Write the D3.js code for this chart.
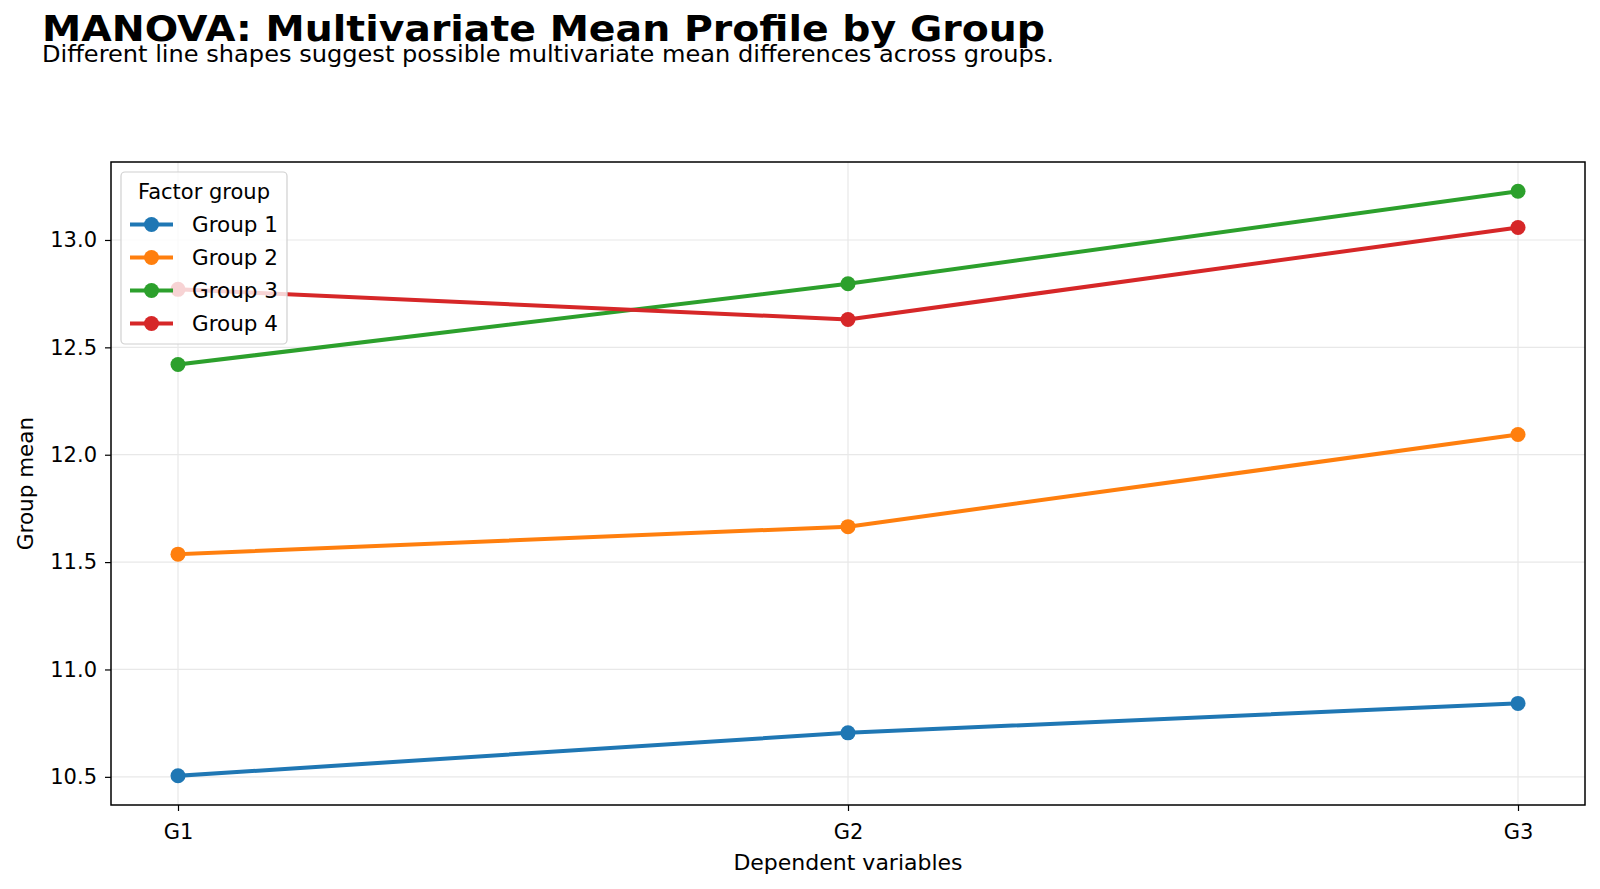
<!DOCTYPE html>
<html>
<head>
<meta charset="utf-8">
<script src="https://cdn.jsdelivr.net/npm/d3@7"></script>
<style>
  body { margin: 0; background: #fff; }
  svg { display: block; font-family: "DejaVu Sans", sans-serif; }
</style>
</head>
<body>
<svg id="chart" width="1600" height="889"></svg>
<script>
// dependent variables along the x axis
var variables = ["G1", "G2", "G3"];
var groups = ["Group 1", "Group 2", "Group 3", "Group 4"];
var colors = ["#1f77b4", "#ff7f0e", "#2ca02c", "#d62728"];

// group means
var group1 = [10.505, 10.705, 10.842];
var group2 = [11.537, 11.665, 12.094];
var group3 = [12.420, 12.796, 13.227];
var group4 = [12.770, 12.630, 13.058];
var yTicks = [10.5, 11.0, 11.5, 12.0, 12.5, 13.0];

var series = [group1, group2, group3, group4];

var svg = d3.select("#chart");
var box = {left: 111, right: 1585, top: 162, bottom: 805};

// matplotlib style 5% margins
var x = d3.scaleLinear()
  .domain([-0.1, variables.length - 1 + 0.1])
  .range([box.left, box.right]);
var allVals = [].concat.apply([], series);
var lo = d3.min(allVals), hi = d3.max(allVals), pad = (hi - lo) * 0.05;
var y = d3.scaleLinear()
  .domain([lo - pad, hi + pad])
  .range([box.bottom, box.top]);

// title + subtitle (the reference text runs wider than plain DejaVu)
svg.append("text").attr("x", 42).attr("y", 41)
  .attr("font-size", 36).attr("font-weight", "bold")
  .attr("textLength", 1003).attr("lengthAdjust", "spacingAndGlyphs")
  .text("MANOVA: Multivariate Mean Profile by Group");
svg.append("text").attr("x", 42).attr("y", 62)
  .attr("font-size", 22.5)
  .attr("textLength", 1012).attr("lengthAdjust", "spacingAndGlyphs")
  .text("Different line shapes suggest possible multivariate mean differences across groups.");

// grid
var grid = svg.append("g").attr("stroke", "#e8e8e8").attr("stroke-width", 1.2);
yTicks.forEach(function(t) {
  grid.append("line").attr("x1", box.left).attr("x2", box.right)
    .attr("y1", y(t)).attr("y2", y(t));
});
variables.forEach(function(v, i) {
  grid.append("line").attr("y1", box.top).attr("y2", box.bottom)
    .attr("x1", x(i)).attr("x2", x(i));
});

// axes
var xAxis = svg.append("g")
  .attr("transform", "translate(0," + box.bottom + ")")
  .call(d3.axisBottom(x).tickValues(d3.range(variables.length))
    .tickFormat(function(d) { return variables[d]; })
    .tickSizeInner(6).tickSizeOuter(0).tickPadding(13));
var yAxis = svg.append("g")
  .attr("transform", "translate(" + box.left + ",0)")
  .call(d3.axisLeft(y).tickValues(yTicks).tickFormat(d3.format(".1f"))
    .tickSizeInner(6).tickSizeOuter(0).tickPadding(8));
[xAxis, yAxis].forEach(function(a) {
  a.select(".domain").remove();
  a.selectAll("text").attr("font-size", 21).attr("fill", "#000")
    .attr("font-family", "DejaVu Sans");
  a.selectAll("line").attr("stroke", "#000").attr("stroke-width", 1.2);
});

svg.append("text").attr("x", (box.left + box.right) / 2).attr("y", 870)
  .attr("text-anchor", "middle").attr("font-size", 22)
  .text("Dependent variables");
svg.append("text")
  .attr("transform", "translate(33," + (box.top + box.bottom) / 2 + ") rotate(-90)")
  .attr("text-anchor", "middle").attr("font-size", 21.5)
  .text("Group mean");

// lines
var line = d3.line()
  .x(function(d, i) { return x(i); })
  .y(function(d) { return y(d); });

series.forEach(function(vals, k) {
  svg.append("path").datum(vals)
    .attr("d", line).attr("fill", "none")
    .attr("stroke", colors[k]).attr("stroke-width", 4)
    .attr("stroke-linejoin", "round").attr("stroke-linecap", "square");
  svg.selectAll(".pt" + k).data(vals).enter().append("circle")
    .attr("cx", function(d, i) { return x(i); })
    .attr("cy", function(d) { return y(d); })
    .attr("r", 7.5).attr("fill", colors[k]);
});

// frame
svg.append("rect").attr("x", box.left).attr("y", box.top)
  .attr("width", box.right - box.left).attr("height", box.bottom - box.top)
  .attr("fill", "none").attr("stroke", "#000").attr("stroke-width", 1.5);

// legend
var leg = svg.append("g");
leg.append("rect").attr("x", 121).attr("y", 172).attr("width", 166).attr("height", 172)
  .attr("rx", 4).attr("fill", "#fff").attr("fill-opacity", 0.8)
  .attr("stroke", "#d0d0d0").attr("stroke-width", 1.2);
leg.append("text").attr("x", 204).attr("y", 199).attr("text-anchor", "middle")
  .attr("font-size", 21).text("Factor group");
groups.forEach(function(g, k) {
  var cy = 224.5 + k * 33;
  leg.append("line").attr("x1", 130).attr("x2", 173).attr("y1", cy).attr("y2", cy)
    .attr("stroke", colors[k]).attr("stroke-width", 4);
  leg.append("circle").attr("cx", 151.5).attr("cy", cy).attr("r", 7.5).attr("fill", colors[k]);
  leg.append("text").attr("x", 192).attr("y", cy + 7.5).attr("font-size", 21.5).text(g);
});
</script>
</body>
</html>
